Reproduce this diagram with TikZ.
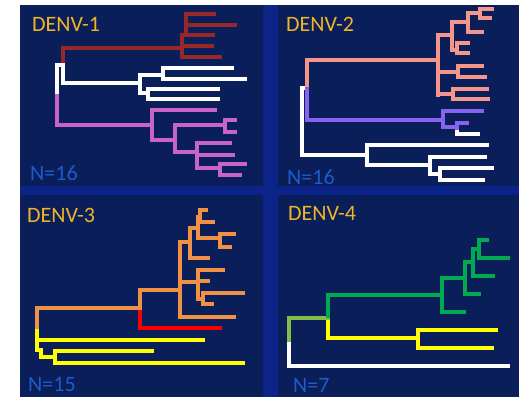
\documentclass[tikz,border=0pt]{standalone}
\usepackage{fontspec}
\setmainfont{Carlito}
\definecolor{navy}{RGB}{10,30,90}
\definecolor{strip}{RGB}{12,36,135}
\definecolor{titlecol}{RGB}{240,180,40}
\definecolor{ncol}{RGB}{30,90,205}
\definecolor{dred}{RGB}{150,40,40}
\definecolor{orchid}{RGB}{200,100,200}
\definecolor{salmon}{RGB}{245,150,140}
\definecolor{violet}{RGB}{135,100,240}
\definecolor{orng}{RGB}{240,145,70}
\definecolor{rred}{RGB}{255,0,0}
\definecolor{yel}{RGB}{255,255,0}
\definecolor{grn}{RGB}{0,170,80}
\definecolor{lgrn}{RGB}{130,190,70}
\tikzset{
  br/.style={line width=3.2pt, line cap=rect, line join=miter},
  ttl/.style={anchor=base west, inner sep=0pt, text=titlecol, font=\fontsize{22}{22}\selectfont},
  nlab/.style={anchor=base west, inner sep=0pt, text=ncol, font=\fontsize{22}{22}\selectfont}
}
\begin{document}
\begin{tikzpicture}[x=1pt,y=-1pt]
\useasboundingbox (0,0) rectangle (519,397);
\fill[white] (0,0) rectangle (519,397);
\fill[navy] (20,5) rectangle (519,397);
\fill[strip] (263,5) rectangle (278,397);
\fill[strip] (20,186) rectangle (519,195);

% ---------- Panel 1 ----------
\node[ttl] (t1) at (32,31.5) {DENV-1};
\node[nlab] (n1) at (30,180.5) {N=16};
\begin{scope}[br, dred]
\draw (63,65) -- (63,48) -- (182,48);
\draw (182,35) -- (182,57);
\draw (182,57) -- (220,57);
\draw (182,46) -- (212,46);
\draw (182,35) -- (213,35);
\draw (186,14) -- (186,35);
\draw (186,14) -- (214,14);
\draw (186,25) -- (235,25);
\end{scope}
\begin{scope}[br, white]
\draw (57,95) -- (57,65) -- (63,65) -- (63,83) -- (140,83);
\draw (140,75) -- (140,93);
\draw (140,75) -- (163,75);
\draw (163,68) -- (163,79);
\draw (163,68) -- (232,68);
\draw (163,79) -- (245,79);
\draw (140,93) -- (148,93);
\draw (148,89) -- (148,99);
\draw (148,89) -- (218,89);
\draw (148,99) -- (218,99);
\end{scope}
\begin{scope}[br, orchid]
\draw (57,96) -- (57,125) -- (152,125);
\draw (152,110) -- (152,140);
\draw (152,110) -- (215,110);
\draw (152,140) -- (175,140);
\draw (175,125) -- (175,152);
\draw (175,125) -- (225,125);
\draw (225,120) -- (225,132);
\draw (225,120) -- (235,120);
\draw (225,132) -- (235,132);
\draw (175,152) -- (197,152);
\draw (197,143) -- (197,168);
\draw (197,143) -- (230,143);
\draw (197,155) -- (233,155);
\draw (197,168) -- (220,168);
\draw (220,164) -- (220,175);
\draw (220,164) -- (245,164);
\draw (220,175) -- (240,175);
\end{scope}

% ---------- Panel 2 ----------
\node[ttl] (t2) at (286,31.5) {DENV-2};
\node[nlab] (n2) at (287,184.5) {N=16};
\begin{scope}[br, white]
\draw (307,88) -- (302,88) -- (302,155) -- (367,155);
\draw (367,145) -- (367,165);
\draw (367,145) -- (487,145);
\draw (367,165) -- (430,165);
\draw (430,157) -- (430,174);
\draw (430,157) -- (485,157);
\draw (430,174) -- (440,174);
\draw (440,168) -- (440,180);
\draw (440,168) -- (492,168);
\draw (440,180) -- (483,180);
\draw (457,129) -- (457,134) -- (478,134);
\end{scope}
\begin{scope}[br, salmon]
\draw (307,88) -- (307,60) -- (438,60);
\draw (438,35) -- (438,95);
\draw (438,35) -- (452,35);
\draw (452,22) -- (452,50);
\draw (452,22) -- (468,22);
\draw (468,13) -- (468,32);
\draw (468,13) -- (480,13);
\draw (480,9) -- (480,18);
\draw (480,9) -- (492,9);
\draw (480,18) -- (490,18);
\draw (468,32) -- (482,32);
\draw (452,50) -- (457,50);
\draw (457,43) -- (457,53);
\draw (457,43) -- (468,43);
\draw (457,53) -- (468,53);
\draw (438,72) -- (458,72);
\draw (458,66) -- (458,77);
\draw (458,66) -- (482,66);
\draw (458,77) -- (485,77);
\draw (438,94) -- (453,94);
\draw (453,89) -- (453,99);
\draw (453,89) -- (487,89);
\draw (453,99) -- (488,99);
\end{scope}
\begin{scope}[br, violet]
\draw (307,89) -- (307,120) -- (443,120);
\draw (443,111) -- (443,127);
\draw (443,111) -- (482,111);
\draw (443,127) -- (457,127);
\draw (457,123) -- (457,128);
\draw (457,123) -- (467,123);
\end{scope}

% ---------- Panel 3 ----------
\node[ttl] (t3) at (27,222.5) {DENV-3};
\node[nlab] (n3) at (28,391.5) {N=15};
\begin{scope}[br, yel]
\draw (37,328) -- (37,350) -- (41,350) -- (41,357) -- (55,357);
\draw (37,340) -- (203,340);
\draw (55,351) -- (55,363);
\draw (55,351) -- (152,351);
\draw (55,363) -- (243,363);
\end{scope}
\begin{scope}[br, rred]
\draw (140,309) -- (140,328) -- (220,328);
\end{scope}
\begin{scope}[br, orng]
\draw (37,327) -- (37,308) -- (140,308);
\draw (140,308) -- (140,290) -- (180,290);
\draw (180,242) -- (180,317);
\draw (180,317) -- (234,317);
\draw (180,242) -- (190,242);
\draw (190,228) -- (190,258);
\draw (190,258) -- (208,258);
\draw (190,228) -- (198,228);
\draw (198,217) -- (198,238);
\draw (198,217) -- (200,217);
\draw (200,210) -- (200,222);
\draw (200,210) -- (206,210);
\draw (200,222) -- (213,222);
\draw (198,238) -- (220,238);
\draw (220,234) -- (220,247);
\draw (220,234) -- (234,234);
\draw (220,247) -- (230,247);
\draw (180,282) -- (198,282);
\draw (198,270) -- (198,299);
\draw (198,270) -- (223,270);
\draw (198,281) -- (208,281);
\draw (198,299) -- (203,299);
\draw (203,293) -- (203,304);
\draw (203,293) -- (243,293);
\draw (203,304) -- (212,304);
\end{scope}

% ---------- Panel 4 ----------
\node[ttl] (t4) at (288,220.5) {DENV-4};
\node[nlab] (n4) at (293,392.5) {N=7};
\begin{scope}[br, white]
\draw (289,341) -- (289,366) -- (508,366);
\end{scope}
\begin{scope}[br, yel]
\draw (328,319) -- (328,338) -- (418,338);
\draw (418,330) -- (418,348);
\draw (418,330) -- (496,330);
\draw (418,348) -- (492,348);
\end{scope}
\begin{scope}[br, lgrn]
\draw (289,340) -- (289,318) -- (328,318);
\end{scope}
\begin{scope}[br, grn]
\draw (328,316) -- (328,295) -- (442,295);
\draw (442,278) -- (442,312);
\draw (442,312) -- (464,312);
\draw (442,278) -- (465,278);
\draw (465,262) -- (465,294);
\draw (465,294) -- (479,294);
\draw (465,262) -- (473,262);
\draw (473,249) -- (473,276);
\draw (473,276) -- (493,276);
\draw (473,249) -- (479,249);
\draw (479,240) -- (479,258);
\draw (479,240) -- (487,240);
\draw (479,258) -- (508,258);
\end{scope}
\end{tikzpicture}
\end{document}
